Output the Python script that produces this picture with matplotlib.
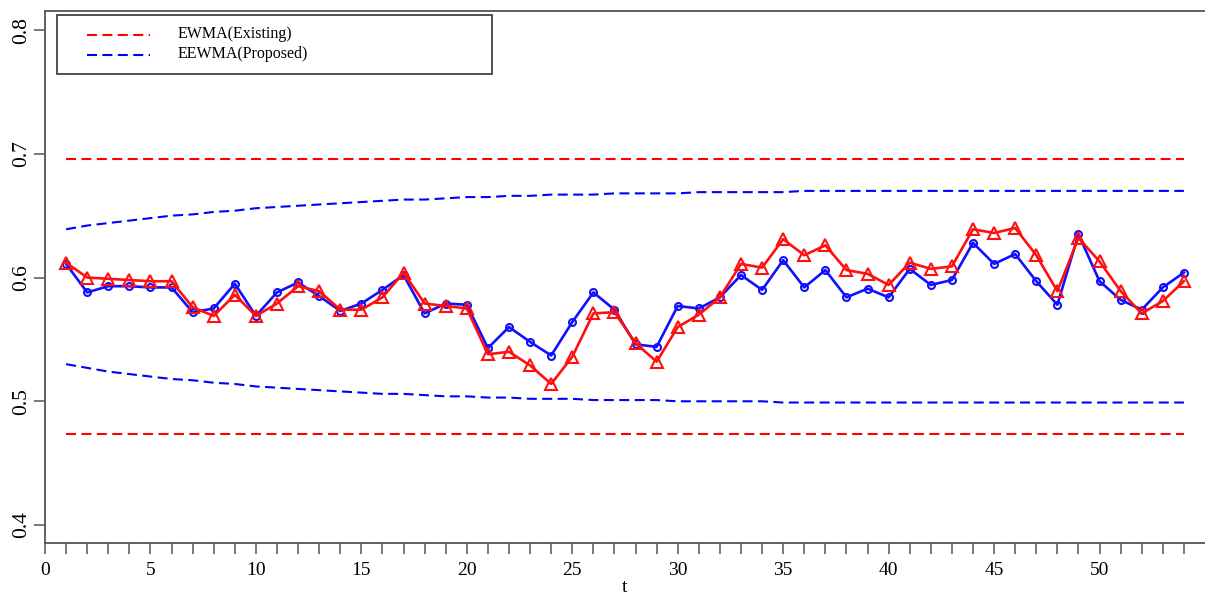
import numpy as np
import matplotlib.pyplot as plt
from matplotlib.lines import Line2D
from matplotlib.patches import Rectangle

plt.rcParams['font.family'] = ['Liberation Serif', 'DejaVu Serif']

# data
t = np.arange(1, 55)
ewma = [0.612, 0.600, 0.599, 0.598, 0.597, 0.597, 0.576, 0.569, 0.586, 0.569,
        0.579, 0.593, 0.589, 0.574, 0.574, 0.584, 0.604, 0.579, 0.577, 0.575,
        0.538, 0.540, 0.529, 0.514, 0.536, 0.571, 0.572, 0.547, 0.532, 0.560,
        0.570, 0.584, 0.611, 0.608, 0.631, 0.618, 0.626, 0.606, 0.603, 0.594,
        0.612, 0.607, 0.609, 0.639, 0.636, 0.640, 0.618, 0.589, 0.632, 0.613,
        0.589, 0.571, 0.581, 0.597]
eewma = [0.611, 0.588, 0.593, 0.593, 0.592, 0.592, 0.572, 0.575, 0.595, 0.569,
         0.588, 0.596, 0.585, 0.573, 0.579, 0.590, 0.602, 0.571, 0.579, 0.578,
         0.543, 0.560, 0.548, 0.537, 0.564, 0.588, 0.574, 0.546, 0.544, 0.577,
         0.575, 0.584, 0.602, 0.590, 0.614, 0.592, 0.606, 0.584, 0.591, 0.584,
         0.607, 0.594, 0.598, 0.628, 0.611, 0.619, 0.597, 0.578, 0.635, 0.597,
         0.582, 0.574, 0.592, 0.604]
ewma_ucl = 0.6955
ewma_lcl = 0.4735
eewma_ucl = [0.639, 0.642, 0.644, 0.646, 0.648, 0.650, 0.651, 0.653, 0.654, 0.656,
             0.657, 0.658, 0.659, 0.660, 0.661, 0.662, 0.663, 0.663, 0.664, 0.665,
             0.665, 0.666, 0.666, 0.667, 0.667, 0.667, 0.668, 0.668, 0.668, 0.668,
             0.669, 0.669, 0.669, 0.669, 0.669, 0.670, 0.670, 0.670, 0.670, 0.670,
             0.670, 0.670, 0.670, 0.670, 0.670, 0.670, 0.670, 0.670, 0.670, 0.670,
             0.670, 0.670, 0.670, 0.670]
eewma_lcl = [0.530, 0.527, 0.524, 0.522, 0.520, 0.518, 0.517, 0.515, 0.514, 0.512,
             0.511, 0.510, 0.509, 0.508, 0.507, 0.506, 0.506, 0.505, 0.504, 0.504,
             0.503, 0.503, 0.502, 0.502, 0.502, 0.501, 0.501, 0.501, 0.501, 0.500,
             0.500, 0.500, 0.500, 0.500, 0.499, 0.499, 0.499, 0.499, 0.499, 0.499,
             0.499, 0.499, 0.499, 0.499, 0.499, 0.499, 0.499, 0.499, 0.499, 0.499,
             0.499, 0.499, 0.499, 0.499]
legend_labels = ['EWMA(Existing)', 'EEWMA(Proposed)']

W, H = 1205, 596
fig = plt.figure(figsize=(W / 100, H / 100), dpi=100)
ax = fig.add_axes([45 / W, 1 - 543 / H, (W - 45) / W, (543 - 10.7) / H])

dash = (4.8, 2.6)
ax.plot(t, [ewma_ucl] * len(t), color='red', lw=1.5, dashes=dash)
ax.plot(t, [ewma_lcl] * len(t), color='red', lw=1.5, dashes=dash)
ax.plot(t, eewma_ucl, color='blue', lw=1.5, dashes=dash)
ax.plot(t, eewma_lcl, color='blue', lw=1.5, dashes=dash)

ax.plot(t, eewma, color='#1010ff', lw=1.9, marker='o', ms=5, mfc='none', mew=1.5)
ax.plot(t, ewma, color='#ff1010', lw=1.9, marker='^', ms=8, mfc='none', mew=1.5)

ax.set_xlim(0, 55)
ax.set_ylim(0.3855, 0.8156)
ax.set_xticks(np.arange(0, 55))
ax.set_xticklabels([str(i) if i % 5 == 0 else '' for i in range(55)])
ax.set_yticks([0.4, 0.5, 0.6, 0.7, 0.8])
ax.set_yticklabels(['0.4', '0.5', '0.6', '0.7', '0.8'], rotation=90, va='center')
ax.tick_params(axis='both', direction='out', length=8, width=1.1, colors='#555555',
               labelcolor='black', labelsize=14, pad=6)
ax.tick_params(axis='y', pad=2, labelsize=15.5)
for s in ['left', 'top', 'bottom']:
    ax.spines[s].set_color('#555555')
    ax.spines[s].set_linewidth(1.3)
ax.spines['right'].set_visible(False)
ax.set_xlabel('t', fontsize=14, labelpad=0)

# legend box, drawn in figure pixels
def fx(px):
    return px / W

def fy(py):
    return 1 - py / H

fig.patches.append(Rectangle((fx(57), fy(74)), fx(492) - fx(57), fy(15) - fy(74),
                             transform=fig.transFigure, fill=False,
                             edgecolor='#333333', lw=1.2))
for col, yy, lab in [('red', 34.5, legend_labels[0]), ('blue', 54.5, legend_labels[1])]:
    fig.lines.append(Line2D([fx(87), fx(150)], [fy(yy), fy(yy)], transform=fig.transFigure,
                            color=col, lw=1.5, dashes=dash))
    fig.text(fx(178), fy(yy), lab, fontsize=11.5, va='center', ha='left')

fig.savefig('out.png', dpi=100)
